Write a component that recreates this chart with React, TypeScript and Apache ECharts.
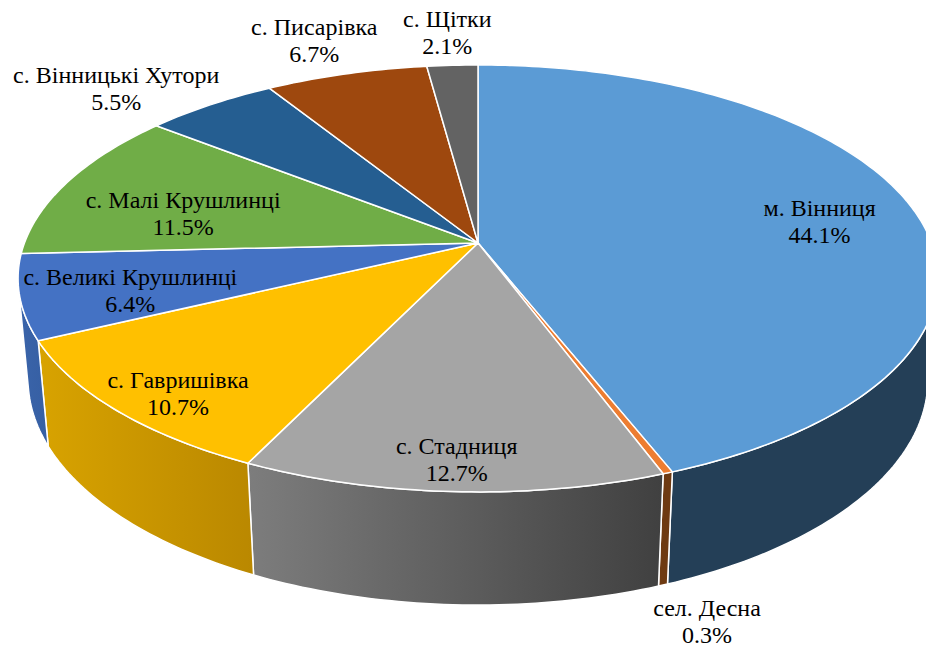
import React, { useEffect, useRef } from "react";
import * as echarts from "echarts";

// ---- data ----
const categories = [
  "м. Вінниця",
  "сел. Десна",
  "с. Стадниця",
  "с. Гавришівка",
  "с. Великі Крушлинці",
  "с. Малі Крушлинці",
  "с. Вінницькі Хутори",
  "с. Писарівка",
  "с. Щітки",
];
const values = [44.1, 0.3, 12.7, 10.7, 6.4, 11.5, 5.5, 6.7, 2.1];

// ---- styles ----
const topColors = ["#5B9BD5", "#ED7D31", "#A5A5A5", "#FFC000", "#4472C4", "#70AD47", "#255E91", "#9E480E", "#636363"];
const wallColors: [string, string][] = [
  ["#243F57", "#243F57"],
  ["#6E3A12", "#6E3A12"],
  ["#7D7D7D", "#404040"],
  ["#D8A300", "#BA8800"],
  ["#3A64AA", "#365FA3"],
  ["#4F7F32", "#4A7830"],
  ["#1A4468", "#1A4468"],
  ["#70330A", "#70330A"],
  ["#464646", "#464646"],
];
// label layout: [radius, dx, dy, plane(0 top, 1 bottom)]
const labelLayout: [number, number, number, number][] = [
  [0.78, 2, 8, 0],
  [1, 44, 36.5, 1],
  [0.89, 1, 0, 0],
  [0.85, 2, 11.5, 0],
  [0.76, -3, 7, 0],
  [0.7, -3, 13.5, 0],
  [1, -94, -16, 0],
  [1, -32, -33, 0],
  [1, -5, -33, 0],
];

// ---- projection (perspective 3D pie) ----
const CX = 478, CY = 243, F = 2431, D = 5.36, TILT = (27.24 * Math.PI) / 180, H = 0.2535;
const SA = Math.sin(TILT), CA = Math.cos(TILT);
function project(r: number, theta: number, y: number): number[] {
  const u = r * Math.sin(theta);
  const v = -r * Math.cos(theta);
  const yc = y * CA - v * SA;
  const depth = D - y * SA - v * CA;
  return [CX + (F * u) / depth, CY - (F * yc) / depth];
}
const total = values.reduce((a, b) => a + b, 0);
const starts: number[] = [];
const ends: number[] = [];
{
  let acc = 0;
  values.forEach((v) => {
    starts.push((acc / total) * Math.PI * 2);
    acc += v;
    ends.push((acc / total) * Math.PI * 2);
  });
}
const visCos = -1 / (D * CA);
const VIS0 = Math.acos(visCos);
const VIS1 = Math.PI * 2 - VIS0;

function arcPoints(a0: number, a1: number, y: number): number[][] {
  const n = Math.max(2, Math.ceil(((a1 - a0) * 180) / Math.PI));
  const pts: number[][] = [];
  for (let k = 0; k <= n; k++) pts.push(project(1, a0 + ((a1 - a0) * k) / n, y));
  return pts;
}

export default function App() {
  const ref = useRef<HTMLDivElement>(null);
  useEffect(() => {
    if (!ref.current) return;
    const chart = echarts.init(ref.current, undefined, { renderer: "svg" });
    const data = values.map((v, i) => [i, v]);
    chart.setOption({
      animation: false,
      backgroundColor: "#ffffff",
      series: [
        {
          type: "custom",
          coordinateSystem: "none",
          z: 1,
          data,
          renderItem: (params: any) => {
            const i = params.dataIndex;
            const b0 = Math.max(starts[i], VIS0);
            const b1 = Math.min(ends[i], VIS1);
            if (b1 <= b0) return { type: "group", children: [] };
            const top = arcPoints(b0, b1, 0);
            const bot = arcPoints(b0, b1, -H).reverse();
            return {
              type: "polygon",
              shape: { points: top.concat(bot) },
              style: {
                fill: new echarts.graphic.LinearGradient(0, 0, 1, 0, [
                  { offset: 0, color: wallColors[i][0] },
                  { offset: 1, color: wallColors[i][1] },
                ]),
                stroke: "#ffffff",
                lineWidth: 1.5,
                lineJoin: "round",
              },
            };
          },
        },
        {
          type: "custom",
          coordinateSystem: "none",
          z: 2,
          data,
          renderItem: (params: any) => {
            const i = params.dataIndex;
            const pts = [project(0, 0, 0)].concat(arcPoints(starts[i], ends[i], 0));
            return {
              type: "polygon",
              shape: { points: pts },
              style: { fill: topColors[i], stroke: "#ffffff", lineWidth: 1.5, lineJoin: "round" },
            };
          },
        },
        {
          type: "custom",
          coordinateSystem: "none",
          z: 3,
          data,
          renderItem: (params: any) => {
            const i = params.dataIndex;
            const [r, dx, dy, plane] = labelLayout[i];
            const mid = (starts[i] + ends[i]) / 2;
            const p = project(r, mid, plane ? -H : 0);
            return {
              type: "text",
              x: p[0] + dx,
              y: p[1] + dy,
              style: {
                text: categories[i] + "\n" + ((values[i] / total) * 100).toFixed(1) + "%",
                fill: "#000000",
                fontSize: 24,
                fontFamily: "Liberation Serif",
                lineHeight: 27,
                align: "center",
                verticalAlign: "middle",
              },
            };
          },
        },
      ],
    });
    return () => chart.dispose();
  }, []);
  return (
    <div
      ref={ref}
      style={{ position: "fixed", left: 0, top: 0, width: 926, height: 648 }}
    />
  );
}
